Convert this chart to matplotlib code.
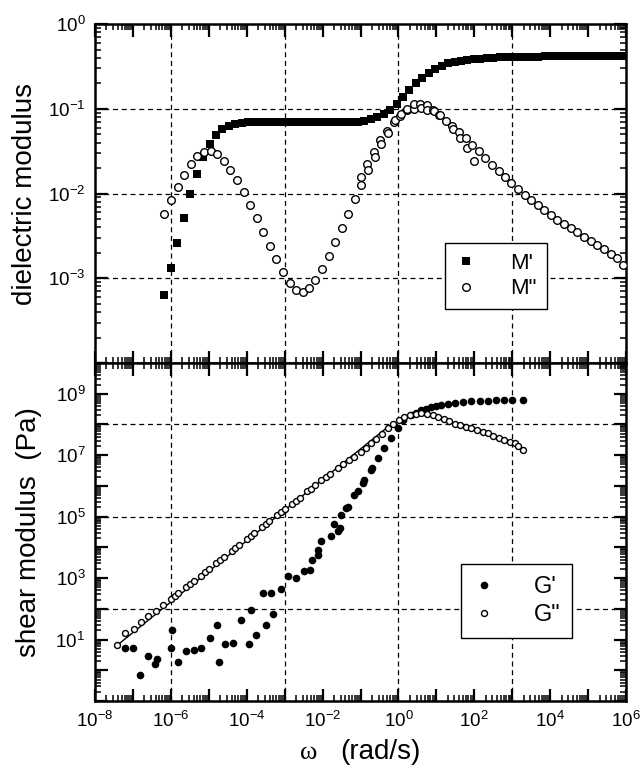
import numpy as np
import matplotlib
matplotlib.use('Agg')
import matplotlib.pyplot as plt
from matplotlib.ticker import LogLocator, FuncFormatter, NullFormatter

plt.rcParams['font.family'] = ['Liberation Sans', 'DejaVu Sans']
plt.rcParams['mathtext.fontset'] = 'custom'
plt.rcParams['mathtext.rm'] = 'Liberation Sans'
plt.rcParams['mathtext.default'] = 'regular'

# ---- dielectric modulus (top panel), frequency as log10(w) ----
m1_logw = [-6.17, -6.00, -5.83, -5.66, -5.49, -5.32, -5.15, -4.98, -4.81, -4.64,
           -4.47, -4.30, -4.13, -3.96, -3.79, -3.62, -3.45, -3.28, -3.11, -2.94,
           -2.77, -2.60, -2.43, -2.26, -2.09, -1.92, -1.75, -1.58, -1.41, -1.24,
           -1.07, -0.90, -0.73, -0.56, -0.39, -0.22, -0.05, 0.12, 0.29, 0.46,
           0.63, 0.80, 0.97, 1.14, 1.31, 1.48, 1.65, 1.82, 1.99, 2.16,
           2.33, 2.50, 2.67, 2.84, 3.01, 3.18, 3.35, 3.52, 3.69, 3.86,
           4.03, 4.20, 4.37, 4.54, 4.71, 4.88, 5.05, 5.22, 5.39, 5.56,
           5.73, 5.90]
m1 = [6.4e-4, 1.33e-3, 2.6e-3, 5.2e-3, 9.8e-3, 1.72e-2, 2.7e-2, 3.85e-2, 4.9e-2, 5.7e-2,
      6.3e-2, 6.6e-2, 6.8e-2, 6.9e-2, 6.95e-2, 7.0e-2, 7.0e-2, 7.0e-2, 7.0e-2, 7.0e-2,
      7.0e-2, 7.0e-2, 7.0e-2, 7.0e-2, 7.0e-2, 7.0e-2, 7.0e-2, 7.0e-2, 7.0e-2, 7.0e-2,
      7.05e-2, 7.2e-2, 7.6e-2, 8.1e-2, 8.7e-2, 9.8e-2, 0.115, 0.138, 0.166, 0.200,
      0.233, 0.266, 0.297, 0.322, 0.343, 0.358, 0.370, 0.379, 0.386, 0.391,
      0.396, 0.400, 0.403, 0.406, 0.408, 0.410, 0.411, 0.412, 0.413, 0.414,
      0.415, 0.416, 0.416, 0.417, 0.417, 0.418, 0.418, 0.419, 0.419, 0.420,
      0.420, 0.420]

m2_logw = [-6.17, -6.00, -5.82, -5.65, -5.47, -5.30, -5.13, -4.95, -4.78, -4.60,
           -4.43, -4.26, -4.08, -3.92, -3.74, -3.56, -3.39, -3.22, -3.04, -2.87,
           -2.70, -2.52, -2.35, -2.19, -2.01, -1.83, -1.66, -1.48, -1.32, -1.14,
           -1.00, -0.98, -0.82, -0.81, -0.65, -0.63, -0.48, -0.46, -0.29, -0.27,
           -0.11, -0.09, 0.04, 0.06, 0.22, 0.23, 0.40, 0.41, 0.57, 0.59,
           0.75, 0.75, 0.92, 0.93, 1.08, 1.10, 1.26, 1.41, 1.45, 1.59,
           1.63, 1.77, 1.80, 1.93, 1.98, 2.12, 2.29, 2.46, 2.65, 2.81,
           2.97, 3.15, 3.33, 3.50, 3.67, 3.84, 4.02, 4.19, 4.37, 4.54,
           4.72, 4.89, 5.07, 5.24, 5.42, 5.60, 5.77, 5.93]
m2 = [5.7e-3, 8.3e-3, 1.18e-2, 1.66e-2, 2.24e-2, 2.77e-2, 3.12e-2, 3.17e-2, 2.9e-2, 2.43e-2,
      1.9e-2, 1.44e-2, 1.04e-2, 7.3e-3, 5.1e-3, 3.5e-3, 2.4e-3, 1.67e-3, 1.19e-3, 8.8e-4,
      7.3e-4, 6.9e-4, 7.6e-4, 9.6e-4, 1.29e-3, 1.83e-3, 2.7e-3, 3.9e-3, 5.8e-3, 8.6e-3,
      1.55e-2, 1.27e-2, 2.21e-2, 1.87e-2, 3.1e-2, 2.7e-2, 4.26e-2, 3.86e-2, 5.5e-2, 5.2e-2,
      6.98e-2, 7.3e-2, 8.15e-2, 8.6e-2, 9.6e-2, 0.100, 0.100, 0.114, 0.114, 0.102,
      0.111, 0.097, 0.098, 0.095, 0.085, 0.0836, 0.071, 0.063, 0.0575, 0.0536,
      0.0447, 0.0447, 0.034, 0.0373, 0.0243, 0.0317, 0.026, 0.0218, 0.0185, 0.0156,
      0.0132, 0.0113, 9.7e-3, 8.3e-3, 7.3e-3, 6.4e-3, 5.6e-3, 4.9e-3, 4.4e-3, 3.9e-3,
      3.5e-3, 3.1e-3, 2.75e-3, 2.5e-3, 2.2e-3, 1.96e-3, 1.74e-3, 1.44e-3]

# ---- shear modulus (bottom panel), log10(w) and log10(G / Pa) ----
g1_logw = [-7.20, -7.00, -6.81, -6.60, -6.41, -6.37, -6.00, -5.97, -5.80, -5.59,
           -5.40, -5.20, -4.98, -4.79, -4.74, -4.57, -4.35, -4.15, -3.95, -3.89,
           -3.75, -3.56, -3.49, -3.36, -3.31, -3.10, -2.90, -2.70, -2.50, -2.33,
           -2.28, -2.13, -2.11, -2.04, -1.77, -1.69, -1.60, -1.55, -1.51, -1.38,
           -1.33, -1.16, -1.07, -0.94, -0.90, -0.72, -0.69, -0.54, -0.37, -0.19,
           -0.02, 0.12, 0.33, 0.47, 0.60, 0.73, 0.86, 1.00, 1.13, 1.30,
           1.48, 1.70, 1.92, 2.14, 2.36, 2.58, 2.79, 3.00, 3.28]
g1_log = [0.73, 0.71, -0.155, 0.46, 0.22, 0.37, 0.73, 1.30, 0.27, 0.63,
          0.65, 0.71, 1.06, 1.46, 0.27, 0.87, 0.89, 1.65, 0.87, 1.95,
          1.14, 2.53, 1.49, 2.51, 1.84, 2.64, 3.08, 3.02, 3.24, 3.27,
          3.59, 3.92, 3.75, 4.21, 4.37, 4.75, 4.53, 4.64, 5.07, 5.29,
          5.33, 5.72, 5.82, 6.09, 6.18, 6.52, 6.60, 6.90, 7.22, 7.55,
          7.87, 8.14, 8.30, 8.39, 8.46, 8.52, 8.57, 8.61, 8.65, 8.68,
          8.71, 8.73, 8.75, 8.77, 8.78, 8.80, 8.81, 8.81, 8.81]

g2_logw = [-7.42, -7.20, -6.98, -6.80, -6.60, -6.40, -6.20, -6.00, -5.90, -5.80,
           -5.60, -5.50, -5.40, -5.20, -5.10, -5.00, -4.80, -4.70, -4.60, -4.40,
           -4.30, -4.20, -4.00, -3.90, -3.80, -3.60, -3.50, -3.40, -3.20, -3.10,
           -3.00, -2.80, -2.70, -2.60, -2.40, -2.30, -2.20, -2.04, -1.90, -1.80,
           -1.60, -1.45, -1.30, -1.16, -1.00, -0.86, -0.72, -0.58, -0.43, -0.28,
           -0.14, 0.01, 0.15, 0.30, 0.45, 0.60, 0.75, 0.90, 1.04, 1.19,
           1.33, 1.48, 1.63, 1.78, 1.92, 2.07, 2.22, 2.36, 2.50, 2.65,
           2.79, 2.93, 3.06, 3.15, 3.28]
g2_log = [0.81, 1.20, 1.36, 1.56, 1.76, 1.93, 2.11, 2.33, 2.42, 2.52,
          2.70, 2.80, 2.90, 3.08, 3.20, 3.30, 3.49, 3.60, 3.70, 3.88,
          3.98, 4.08, 4.27, 4.37, 4.47, 4.66, 4.76, 4.86, 5.04, 5.14,
          5.24, 5.42, 5.52, 5.62, 5.82, 5.90, 6.02, 6.20, 6.30, 6.40,
          6.58, 6.72, 6.84, 6.95, 7.12, 7.25, 7.39, 7.52, 7.70, 7.87,
          8.02, 8.14, 8.24, 8.31, 8.35, 8.36, 8.34, 8.30, 8.25, 8.19,
          8.11, 8.03, 7.97, 7.92, 7.87, 7.82, 7.76, 7.71, 7.64, 7.56,
          7.49, 7.43, 7.39, 7.30, 7.17]

# terminal-flow line drawn through G''
fit_logw = [-7.42, -0.30]
fit_log = [0.81, 7.90]

x_grid = [1e-6, 1e-3, 1e0, 1e3]
top_y_grid = [1e-1, 1e-2, 1e-3]
bot_y_grid = [1e8, 1e5, 1e2]


def exp_formatter(shown):
    def fmt(v, pos):
        e = int(round(np.log10(v)))
        if e in shown:
            return r'$10^{%d}$' % e
        return ''
    return FuncFormatter(fmt)


def style_axes(ax, xshown, yshown):
    ax.set_xscale('log')
    ax.set_yscale('log')
    ax.set_xlim(1e-8, 1e6)
    for axis in (ax.xaxis, ax.yaxis):
        axis.set_major_locator(LogLocator(base=10, numticks=30))
        axis.set_minor_locator(LogLocator(base=10, subs=np.arange(2, 10), numticks=30))
        axis.set_minor_formatter(NullFormatter())
    ax.xaxis.set_major_formatter(exp_formatter(xshown))
    ax.yaxis.set_major_formatter(exp_formatter(yshown))
    ax.tick_params(which='both', direction='in', top=True, right=True, labelsize=13.5)
    ax.tick_params(which='major', length=9, width=1.6, pad=7)
    ax.tick_params(which='minor', length=4.5, width=1.1)
    for sp in ax.spines.values():
        sp.set_linewidth(1.8)
    for xv in x_grid:
        ax.axvline(xv, color='k', lw=0.9, ls=(0, (4, 3)), zorder=1)


fig = plt.figure(figsize=(6.42, 7.68), dpi=100)
ax_t = fig.add_axes([0.148, 0.5273, 0.8271, 0.4414])
ax_b = fig.add_axes([0.148, 0.0872, 0.8271, 0.4401])

# top panel
style_axes(ax_t, [], [-3, -2, -1, 0])
ax_t.set_ylim(1e-4, 1e0)
for yv in top_y_grid:
    ax_t.axhline(yv, color='k', lw=0.9, ls=(0, (4, 3)), zorder=1)
ax_t.plot(10 ** np.array(m1_logw), m1, 's', color='k', ms=5.2, mew=0, label="M'", zorder=3)
ax_t.plot(10 ** np.array(m2_logw), m2, 'o', mfc='white', mec='k', ms=5.5, mew=1.0,
          label='M"', zorder=3)
ax_t.set_ylabel('dielectric modulus', fontsize=20)
ax_t.yaxis.set_label_coords(-0.108, 0.5)
leg = ax_t.legend(loc='upper left', bbox_to_anchor=(0.659, 0.354), fontsize=16,
                  frameon=True, fancybox=False, edgecolor='k', framealpha=1,
                  handlelength=1.0, handletextpad=1.5, borderpad=0.45,
                  labelspacing=0.2, borderaxespad=0)
leg.get_frame().set_linewidth(1.0)

# bottom panel
style_axes(ax_b, [-8, -6, -4, -2, 0, 2, 4, 6], [1, 3, 5, 7, 9])
ax_b.set_ylim(1e-1, 1e10)
for yv in bot_y_grid:
    ax_b.axhline(yv, color='k', lw=0.9, ls=(0, (4, 3)), zorder=1)
ax_b.plot(10 ** np.array(fit_logw), 10 ** np.array(fit_log), '-', color='k', lw=1.0, zorder=2)
ax_b.plot(10 ** np.array(g1_logw), 10 ** np.array(g1_log), 'o', color='k', ms=5.5, mew=0,
          label="G'", zorder=3)
ax_b.plot(10 ** np.array(g2_logw), 10 ** np.array(g2_log), 'o', mfc='white', mec='k',
          ms=4.3, mew=1.0, label='G"', zorder=3)
ax_b.set_ylabel('shear modulus  (Pa)', fontsize=20)
ax_b.yaxis.set_label_coords(-0.100, 0.5)
leg = ax_b.legend(loc='upper left', bbox_to_anchor=(0.689, 0.405), fontsize=17,
                  frameon=True, fancybox=False, edgecolor='k', framealpha=1,
                  handlelength=1.0, handletextpad=1.6, borderpad=0.5,
                  labelspacing=0.25, borderaxespad=0)
leg.get_frame().set_linewidth(1.0)

ax_b.text(0.403, -0.153, '\u03c9', transform=ax_b.transAxes, ha='center', va='center',
          fontsize=19, family=['Liberation Serif', 'DejaVu Serif'])
ax_b.text(0.537, -0.150, '(rad/s)', transform=ax_b.transAxes, ha='center', va='center',
          fontsize=20)

plt.savefig('out.png', dpi=100)
plt.close()
